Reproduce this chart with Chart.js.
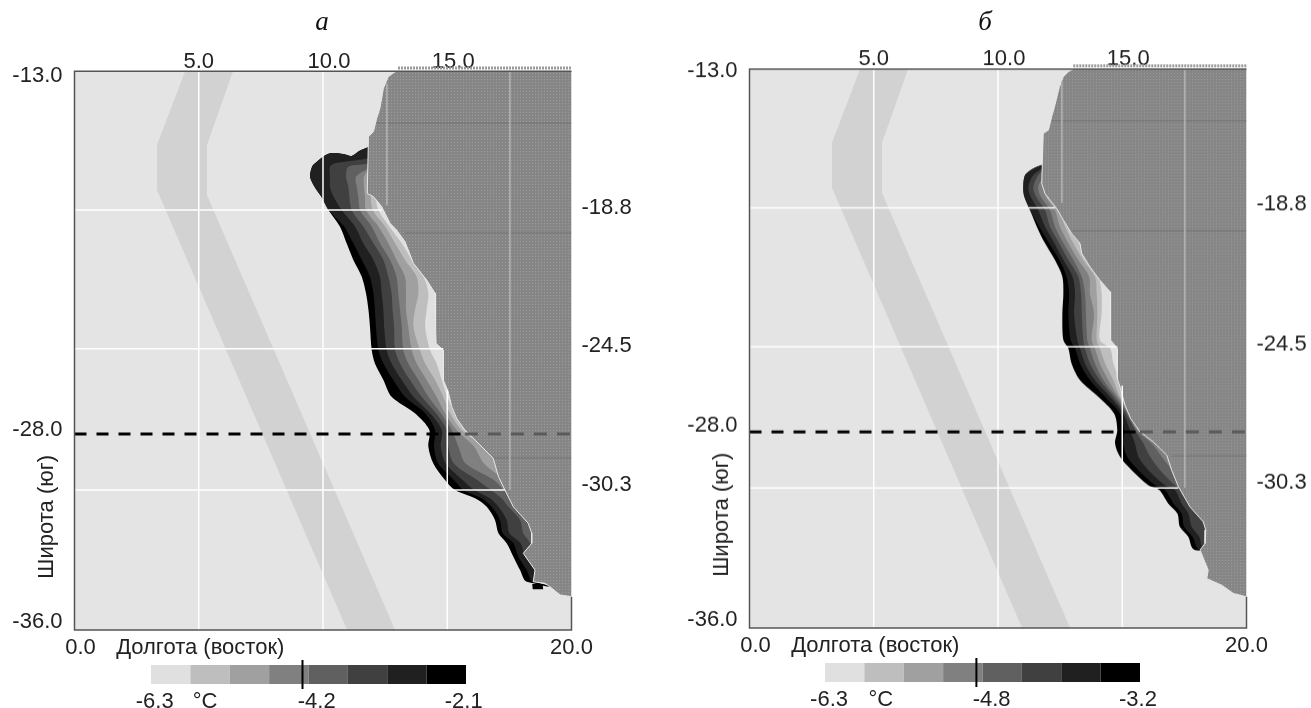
<!DOCTYPE html>
<html lang="ru">
<head>
<meta charset="utf-8">
<title>Температура, панели а и б</title>
<script src="https://cdn.jsdelivr.net/npm/chart.js@4"></script>
<style>
  html, body { margin: 0; padding: 0; background: #fff; overflow: hidden; }
  #page { position: relative; width: 1311px; height: 708px; }
  canvas { position: absolute; display: block; }
</style>
</head>
<body>
<div id="page">
  <canvas id="mapA" style="left:0;top:0"></canvas>
  <canvas id="mapB" style="left:675px;top:0"></canvas>
  <canvas id="barA" style="left:130px;top:655px"></canvas>
  <canvas id="barB" style="left:804.4px;top:653px"></canvas>
</div>
<script>
// цвета шкалы, от самого холодного к самому тёплому
const levelColors = ['#e0e0e0', '#bebebe', '#a0a0a0', '#808080', '#606060', '#404040', '#202020', '#000000'];

// граница карты
const latTop = -13;
const latBottom = -36.05;

// полоса через океан
const bandLon = [4.45, 3.32, 3.32, 10.97, 12.9, 5.33, 5.33, 6.38];
const bandLat = [-13.1, -16.13, -17.98, -36.05, -36.05, -18.18, -16.13, -13.1];

// подписи осей: где стоит подпись и что в ней написано
const topTicks = [5, 10.24, 15.24];
const topLabels = ['5.0', '10.0', '15.0'];
const bottomTicks = [0.24, 5.06, 20];
const bottomLabels = ['0.0', 'Долгота (восток)', '20.0'];
const leftLabels = ['-13.0', '-28.0', '-36.0'];
const rightLabels = ['-18.8', '-24.5', '-30.3'];
const parallels = [-18.8, -24.5, -30.3];
const leftTicksA = [-13.3, -27.83, -35.72];
const rightTicksA = [-18.72, -24.39, -30.09];
const leftTicksB = [-13.19, -27.76, -35.73];
const rightTicksB = [-18.65, -24.4, -30.1];

// светлые линии сетки: долгота и широта
const oceanMeridians = [5, 10];
const landMeridians = [[12.57, -13.6, -18.6], [17.52, -13.1, -30.3]];
const darkLandLats = [-15.23, -19.74, -28.98];

// панель а: широты строк и долготы изолиний (от чёрной к самой светлой)
const latsA = [-16.23, -16.36, -16.58, -16.5, -16.47, -16.65, -16.88, -17.02, -17.43, -17.84, -18.25, -18.8, -19.48,
  -20.17, -20.85, -21.54, -22.22, -22.91, -23.59, -24.55, -25.1, -25.78, -26.47, -27.15, -27.84, -28.52, -29.21, -29.89,
  -30.3, -30.64, -30.99, -31.53, -32.08, -32.49, -33.04, -33.59, -34.07];
const contourRowsA = [
  [11.78, 11.78, 11.9, 11.9, 11.9, 11.9, 11.9, 11.9],
  [11.49, 11.49, 11.9, 11.9, 11.9, 11.9, 11.9, 11.9],
  [11.15, 11.15, 11.9, 11.9, 11.9, 11.9, 11.9, 11.9],
  [10.82, 10.82, 11.9, 11.9, 11.9, 11.9, 11.9, 11.9],
  [10.28, 10.28, 11.9, 11.9, 11.9, 11.9, 11.9, 11.9],
  [9.95, 9.95, 11.9, 11.9, 11.9, 11.9, 11.9, 11.9],
  [9.68, 9.68, 10.48, 11.9, 11.9, 11.9, 11.9, 11.9],
  [9.56, 9.56, 10.28, 11.02, 11.9, 11.9, 11.9, 11.9],
  [9.48, 9.48, 10.28, 10.93, 11.33, 11.65, 11.9, 11.9],
  [9.66, 9.66, 10.28, 11.02, 11.36, 11.65, 11.9, 11.9],
  [9.93, 9.93, 10.42, 11.06, 11.42, 11.69, 11.92, 12.09],
  [10.22, 10.22, 10.75, 11.15, 11.49, 11.73, 12.0, 12.23],
  [10.68, 10.85, 11.29, 11.62, 11.96, 12.23, 12.5, 12.67],
  [10.95, 11.22, 11.62, 12.03, 12.29, 12.63, 12.9, 13.17],
  [11.22, 11.56, 12.03, 12.43, 12.7, 12.96, 13.3, 13.57],
  [11.56, 11.89, 12.29, 12.63, 12.96, 13.3, 13.77, 14.04],
  [11.73, 12.03, 12.36, 12.76, 13.03, 13.34, 13.84, 14.24],
  [11.83, 12.09, 12.43, 12.8, 13.1, 13.34, 13.7, 14.17],
  [11.89, 12.13, 12.46, 12.86, 13.17, 13.43, 13.64, 14.11],
  [11.96, 12.23, 12.56, 12.9, 13.23, 13.57, 13.9, 14.31],
  [12.09, 12.43, 12.76, 13.1, 13.43, 13.77, 14.11, 14.57],
  [12.43, 12.83, 13.17, 13.5, 13.84, 14.17, 14.51, 14.78],
  [12.76, 13.3, 13.64, 13.97, 14.24, 14.57, 14.84, 15.0],
  [13.7, 14.11, 14.31, 14.55, 14.74, 14.91, 15.11, 15.33],
  [14.28, 14.51, 14.78, 14.98, 15.18, 15.38, 15.58, 15.71],
  [14.24, 14.47, 14.74, 15.04, 15.45, 16.08, 16.45, 16.45],
  [14.44, 14.64, 14.94, 15.27, 15.74, 16.48, 17.0, 17.0],
  [14.91, 15.27, 15.62, 16.21, 16.88, 17.26, 17.26, 17.26],
  [15.31, 15.65, 16.08, 16.75, 17.28, 17.4, 17.4, 17.4],
  [16.12, 16.39, 16.72, 17.19, 17.59, 17.7, 17.7, 17.7],
  [16.59, 16.79, 17.06, 17.46, 17.93, 18.06, 18.06, 18.06],
  [16.92, 17.12, 17.39, 17.93, 18.33, 18.4, 18.4, 18.4],
  [17.06, 17.23, 17.5, 18.06, 18.46, 18.5, 18.5, 18.5],
  [17.39, 17.66, 17.95, 18.33, 18.5, 18.5, 18.5, 18.5],
  [17.66, 17.86, 18.13, 18.3, 18.3, 18.3, 18.3, 18.3],
  [17.93, 18.2, 18.55, 18.55, 18.55, 18.55, 18.55, 18.55],
  [18.2, 18.44, 18.6, 18.6, 18.6, 18.6, 18.6, 18.6]
];
const coastLonA = [13.02, 12.9, 12.63, 12.43, 12.29, 12.16, 12.03, 11.83, 11.78, 12.03, 12.36, 12.7, 12.96, 13.3, 13.64,
  14.17, 14.51, 14.53, 14.55, 14.84, 14.84, 15.04, 15.18, 15.38, 15.71, 16.25, 16.85, 17.06, 17.32, 17.66, 18.26, 18.4,
  18.4, 18.06, 18.53, 18.46, 18.93, 19.13, 19.54, 20];
const coastLatA = [-13.1, -13.12, -13.32, -13.8, -14.62, -15.04, -15.58, -15.79, -18.12, -18.25, -18.66, -19.35, -19.62,
  -20.1, -20.99, -21.67, -22.22, -23.59, -24.28, -24.55, -25.78, -26.26, -26.88, -27.36, -27.84, -28.38, -29.0, -29.75,
  -30.3, -30.99, -31.67, -32.08, -32.49, -32.9, -33.59, -34.07, -34.13, -34.27, -34.61, -34.68];
const patchLonA = [18.42, 18.84, 18.86, 18.44];
const patchLatA = [-34.16, -34.16, -34.38, -34.38];
const parallelEndA = [12.36, 14.84, 17.32];
const meridian15TopA = -26.2;
const dashBreakA = 15.71;

// панель б
const latsB = [-17.04, -17.18, -17.45, -17.93, -18.34, -18.89, -19.57, -20.12, -20.94, -21.63, -22.31, -23.13, -24.23,
  -24.57, -25.19, -25.87, -26.56, -27.24, -27.93, -28.47, -29.02, -29.57, -30.19, -30.39, -30.94, -31.35, -31.9,
  -32.31, -32.72, -32.85];
const contourRowsB = [
  [11.76, 11.76, 11.85, 11.85, 11.85, 11.85, 11.85, 11.85],
  [11.42, 11.42, 11.76, 11.85, 11.85, 11.85, 11.85, 11.85],
  [11.09, 11.09, 11.42, 11.62, 11.85, 11.85, 11.85, 11.85],
  [11.02, 11.02, 11.22, 11.42, 11.62, 11.85, 11.85, 11.85],
  [11.06, 11.06, 11.31, 11.53, 11.72, 11.92, 11.96, 12.03],
  [11.29, 11.29, 11.62, 11.89, 12.09, 12.29, 12.44, 12.49],
  [11.56, 11.66, 11.89, 12.09, 12.29, 12.49, 12.7, 12.83],
  [11.82, 11.98, 12.2, 12.39, 12.56, 12.76, 12.96, 13.19],
  [12.29, 12.47, 12.63, 12.83, 13.03, 13.23, 13.43, 13.59],
  [12.59, 12.76, 13.0, 13.23, 13.37, 13.67, 13.9, 14.04],
  [12.63, 12.86, 13.1, 13.34, 13.5, 13.7, 13.97, 14.17],
  [12.59, 12.83, 13.06, 13.37, 13.54, 13.86, 14.0, 14.17],
  [12.63, 12.92, 13.19, 13.43, 13.59, 13.77, 13.97, 14.1],
  [12.83, 13.1, 13.3, 13.5, 13.7, 13.9, 14.1, 14.51],
  [12.96, 13.3, 13.5, 13.7, 13.9, 14.1, 14.31, 14.64],
  [13.3, 13.7, 13.9, 14.1, 14.24, 14.44, 14.64, 14.88],
  [14.04, 14.31, 14.51, 14.64, 14.75, 14.84, 14.91, 15.02],
  [14.67, 14.91, 15.04, 15.15, 15.24, 15.31, 15.45, 15.45],
  [14.8, 15.07, 15.31, 15.51, 15.58, 15.71, 15.74, 15.74],
  [14.71, 15.04, 15.51, 15.85, 16.18, 16.39, 16.55, 16.55],
  [14.91, 15.2, 15.65, 16.12, 16.59, 16.85, 17.06, 17.06],
  [15.38, 15.65, 16.05, 16.52, 16.99, 17.12, 17.2, 17.2],
  [16.05, 16.32, 16.72, 17.12, 17.3, 17.4, 17.4, 17.4],
  [16.49, 16.72, 17.12, 17.39, 17.52, 17.6, 17.6, 17.6],
  [16.85, 17.06, 17.39, 17.66, 17.86, 18.0, 18.0, 18.0],
  [17.22, 17.39, 17.66, 17.99, 18.13, 18.2, 18.2, 18.2],
  [17.32, 17.49, 17.79, 18.33, 18.46, 18.5, 18.5, 18.5],
  [17.66, 17.83, 18.1, 18.33, 18.46, 18.5, 18.5, 18.5],
  [17.79, 17.99, 18.2, 18.3, 18.4, 18.4, 18.4, 18.4],
  [17.93, 18.13, 18.3, 18.3, 18.4, 18.4, 18.4, 18.4]
];
const coastLonB = [13.03, 12.83, 12.63, 12.47, 12.29, 12.16, 12.03, 11.82, 11.76, 11.89, 12.09, 12.36, 12.63, 12.96, 13.3,
  13.37, 13.7, 14.1, 14.51, 14.53, 14.8, 14.8, 14.95, 15.11, 15.34, 15.71, 16.25, 16.79, 16.99, 17.26, 17.73, 18.26, 18.36,
  18.33, 18.13, 18.46, 18.4, 19.0, 19.47, 20];
const coastLatB = [-13.1, -13.21, -13.41, -13.83, -14.58, -15.06, -15.6, -15.74, -17.8, -18.21, -18.48, -18.82, -19.3,
  -19.85, -20.26, -20.67, -21.22, -21.77, -22.24, -24.23, -24.57, -25.8, -26.28, -26.9, -27.45, -27.99, -28.41, -28.95,
  -29.57, -30.25, -31.08, -31.69, -32.03, -32.58, -32.85, -33.68, -34.02, -34.29, -34.63, -34.77];
const parallelEndB = [12.3, 14.8, 17.26];
const meridian15TopB = -26.1;
const dashBreakB = 15.71;

// шкалы под картами
const barEdgesA = [-6.3, -5.775, -5.25, -4.725, -4.2, -3.675, -3.15, -2.625, -2.1];
const barTicksA = [-6.25, -5.58, -4.09, -2.13];
const barLabelsA = ['-6.3', '°C', '-4.2', '-2.1'];
const barMarkA = -4.28;
const barEdgesB = [-6.3, -5.9125, -5.525, -5.1375, -4.75, -4.3625, -3.975, -3.5875, -3.2];
const barTicksB = [-6.26, -5.75, -4.66, -3.22];
const barLabelsB = ['-6.3', '°C', '-4.8', '-3.2'];
const barMarkB = -4.81;

Chart.defaults.font.family = '"Liberation Sans", Arial, sans-serif';
Chart.defaults.font.size = 22;
Chart.defaults.color = '#222';
Chart.defaults.animation = false;

function toPoints(lons, lats) {
  return lons.map((lon, i) => ({ x: lon, y: lats[i] }));
}

function polygon(lons, lats, color, tension) {
  return { data: toPoints(lons, lats), showLine: true, fill: 'shape', backgroundColor: color,
    borderWidth: 0, borderColor: 'transparent', pointRadius: 0, tension: tension || 0 };
}

function line(lons, lats, color, width, dash) {
  return { data: toPoints(lons, lats), showLine: true, fill: false, borderColor: color,
    borderWidth: width, borderDash: dash || [], pointRadius: 0, clip: 3 };
}

function landPattern() {
  const tile = document.createElement('canvas');
  tile.width = 3;
  tile.height = 3;
  const c = tile.getContext('2d');
  c.fillStyle = '#868686';
  c.fillRect(0, 0, 3, 3);
  c.fillStyle = '#9c9c9c';
  c.fillRect(1, 1, 1, 1);
  return c.createPattern(tile, 'repeat');
}

function fixedTicks(values) {
  return scale => { scale.ticks = values.map(v => ({ value: v })); };
}

function noMargins(scale) {
  scale.paddingLeft = 0;
  scale.paddingRight = 0;
  scale.paddingTop = 0;
  scale.paddingBottom = 0;
}

const noGrid = { display: false, drawTicks: false };

function drawMap(id, p) {
  const datasets = [];
  datasets.push(polygon([0, 20, 20, 0], [-13.1, -13.1, latBottom, latBottom], '#e4e4e4'));
  datasets.push(polygon(bandLon, bandLat, '#d2d2d2'));

  // изолинии: чёрная снизу, светлые поверх, с востока закрываются сушей
  for (let k = 7; k >= 0; k--) {
    const lons = p.rows.map(r => r[7 - k]).concat([19.9, 19.9]);
    const lats = p.lats.concat([p.lats[p.lats.length - 1], p.lats[0]]);
    datasets.push(polygon(lons, lats, levelColors[k], 0.3));
  }

  // суша
  const coastEnd = p.coastLat[p.coastLat.length - 1];
  datasets.push(polygon(p.coastLon.concat([20, 20]), p.coastLat.concat([coastEnd, -13.1]), landPattern()));
  if (p.patchLon) datasets.push(polygon(p.patchLon, p.patchLat, '#000000'));
  datasets.push(line(p.coastLon, p.coastLat, '#e8e8e8', 1));

  darkLandLats.forEach(lat => datasets.push(line([p.landStart(lat), 20], [lat, lat], 'rgba(70,70,70,0.3)', 1)));
  landMeridians.forEach(m => datasets.push(line([m[0], m[0]], [m[1], m[2]], '#b4b4b4', 1.5)));
  oceanMeridians.forEach(lon => datasets.push(line([lon, lon], [-13.1, latBottom], '#ffffff', 1.5)));
  datasets.push(line([15, 15], [p.meridian15Top, latBottom], '#ffffff', 1.5));
  parallels.forEach((lat, i) => datasets.push(line([0, p.parallelEnd[i]], [lat, lat], '#ffffff', 1.5)));

  datasets.push(line([0, p.dashBreak], [-28, -28], '#000000', 3, [12, 10]));
  datasets.push(line([p.dashBreak, 20], [-28, -28], '#5a5a5a', 3, [13, 10]));

  datasets.push(line([20, 0, 0, 20, 20], [-13.1, -13.1, latBottom, latBottom, coastEnd], '#555555', 1.5));
  datasets.push(line([p.coastLon[0], 20], [-12.97, -12.97], '#9a9a9a', 3, [2, 1]));
  datasets.forEach((d, i) => { d.order = -i; });

  const canvas = document.getElementById(id);
  canvas.width = p.width;
  canvas.height = p.height;
  canvas.style.width = p.width + 'px';
  canvas.style.height = p.height + 'px';

  // заголовок панели и подпись широты
  const panelText = {
    id: 'panelText',
    afterDraw(chart) {
      const ctx = chart.ctx;
      ctx.save();
      ctx.fillStyle = '#111';
      ctx.textAlign = 'center';
      ctx.textBaseline = 'middle';
      ctx.font = 'italic 27px "Liberation Serif", serif';
      ctx.fillText(p.title, p.titleX, 23);
      ctx.fillStyle = '#222';
      ctx.font = '22px "Liberation Sans", Arial, sans-serif';
      ctx.translate(47, chart.scales.y.getPixelForValue(-31.4));
      ctx.rotate(-Math.PI / 2);
      ctx.fillText('Широта (юг)', 0, 0);
      ctx.restore();
    }
  };

  new Chart(canvas, {
    type: 'scatter',
    data: { datasets },
    plugins: [panelText],
    options: {
      responsive: false,
      maintainAspectRatio: false,
      layout: { padding: 0 },
      plugins: { legend: { display: false }, tooltip: { enabled: false } },
      scales: {
        x: {
          type: 'linear', position: 'bottom', min: 0, max: 20,
          grid: noGrid, border: { display: false },
          afterBuildTicks: fixedTicks(bottomTicks),
          afterFit: s => { s.height = 30; noMargins(s); },
          ticks: { autoSkip: false, maxRotation: 0, padding: 5, callback: (v, i) => bottomLabels[i] }
        },
        xTop: {
          type: 'linear', axis: 'x', position: 'top', min: 0, max: 20,
          grid: noGrid, border: { display: false },
          afterBuildTicks: fixedTicks(topTicks),
          afterFit: s => { s.height = p.topHeight; noMargins(s); },
          ticks: { autoSkip: false, maxRotation: 0, padding: -6, callback: (v, i) => topLabels[i] }
        },
        y: {
          type: 'linear', position: 'right', min: latBottom, max: latTop,
          grid: noGrid, border: { display: false },
          afterBuildTicks: fixedTicks(p.rightTicks),
          afterFit: s => { s.width = p.width - 571.5; noMargins(s); },
          ticks: { autoSkip: false, padding: 10, callback: (v, i) => rightLabels[i] }
        },
        yLeft: {
          type: 'linear', axis: 'y', position: 'left', min: latBottom, max: latTop,
          grid: noGrid, border: { display: false },
          afterBuildTicks: fixedTicks(p.leftTicks),
          afterFit: s => { s.width = 74.5; noMargins(s); },
          ticks: { autoSkip: false, padding: 12, callback: (v, i) => leftLabels[i] }
        }
      }
    }
  });
}

// долгота берега на данной широте, для тёмных линий по суше
function landStartFor(coastLon, coastLat) {
  return lat => {
    let i = 1;
    while (i < coastLat.length - 1 && coastLat[i] > lat) i++;
    return Math.max(coastLon[i], coastLon[i - 1]);
  };
}

function drawBar(id, edges, ticks, labels, mark) {
  const canvas = document.getElementById(id);
  canvas.width = 370;
  canvas.height = 53;
  canvas.style.width = '370px';
  canvas.style.height = '53px';
  const datasets = levelColors.map((color, i) =>
    polygon([edges[i], edges[i + 1], edges[i + 1], edges[i]], [0.17, 0.17, 0.83, 0.83], color));
  datasets.push(line([mark, mark], [0, 1], '#000000', 2));
  datasets.forEach((d, i) => { d.order = -i; });
  new Chart(canvas, {
    type: 'scatter',
    data: { datasets },
    options: {
      responsive: false,
      maintainAspectRatio: false,
      layout: { padding: { left: 21, right: 34, top: 5, bottom: 0 } },
      plugins: { legend: { display: false }, tooltip: { enabled: false } },
      scales: {
        x: {
          type: 'linear', min: edges[0], max: edges[edges.length - 1],
          grid: noGrid, border: { display: false },
          afterBuildTicks: fixedTicks(ticks),
          afterFit: s => { s.height = 19; noMargins(s); },
          ticks: { autoSkip: false, maxRotation: 0, padding: 0, callback: (v, i) => labels[i] }
        },
        y: { type: 'linear', min: 0, max: 1, display: false }
      }
    }
  });
}

drawMap('mapA', {
  width: 655, height: 660, topHeight: 68.8, title: 'а', titleX: 322,
  lats: latsA, rows: contourRowsA, coastLon: coastLonA, coastLat: coastLatA,
  patchLon: patchLonA, patchLat: patchLatA, parallelEnd: parallelEndA,
  meridian15Top: meridian15TopA, dashBreak: dashBreakA,
  landStart: landStartFor(coastLonA, coastLatA),
  leftTicks: leftTicksA, rightTicks: rightTicksA
});
drawMap('mapB', {
  width: 636, height: 657.7, topHeight: 66.5, title: 'б', titleX: 310,
  lats: latsB, rows: contourRowsB, coastLon: coastLonB, coastLat: coastLatB,
  parallelEnd: parallelEndB,
  meridian15Top: meridian15TopB, dashBreak: dashBreakB,
  landStart: landStartFor(coastLonB, coastLatB),
  leftTicks: leftTicksB, rightTicks: rightTicksB
});
drawBar('barA', barEdgesA, barTicksA, barLabelsA, barMarkA);
drawBar('barB', barEdgesB, barTicksB, barLabelsB, barMarkB);
</script>
</body>
</html>
